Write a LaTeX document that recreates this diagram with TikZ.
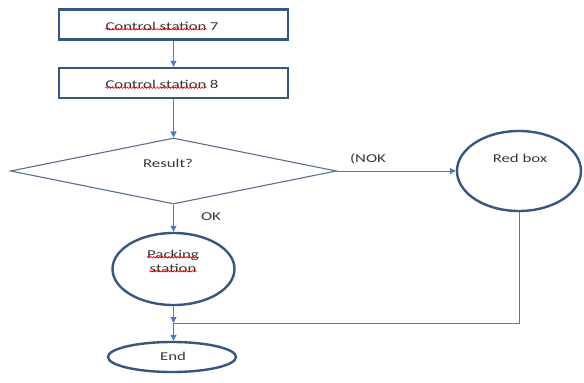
\documentclass[tikz,border=0pt]{standalone}
\usepackage{fontspec}
\setmainfont{Carlito}
\usetikzlibrary{shapes.geometric,arrows.meta,decorations.pathmorphing}
\definecolor{boxc}{HTML}{36587F}
\definecolor{linec}{HTML}{4A7EBB}
\definecolor{diac}{HTML}{5B7090}
\definecolor{txt}{HTML}{383838}
\newcommand\wt[1]{\scalebox{1.4}[1]{#1}}
\begin{document}
\begin{tikzpicture}[x=1pt,y=-1pt,
  lbl/.style={font=\fontsize{12}{13}\selectfont, text=txt, inner sep=0pt},
  stationbox/.style={draw=boxc, line width=2.3pt, minimum width=229pt, minimum height=30pt, inner sep=0pt},
  oval/.style={ellipse, draw=boxc, line width=2.4pt, inner sep=0pt},
  decision/.style={diamond, draw=diac, line width=1.1pt, inner sep=0pt, shape aspect=4.9, minimum width=326pt, minimum height=66pt},
  conn/.style={draw=linec, line width=1pt, -{Triangle[length=6pt,width=6pt]}},
  plain/.style={draw=linec, line width=1pt},
  squig/.style={red, line width=0.6pt, decorate, decoration={snake, amplitude=0.8pt, segment length=3pt}}]
\useasboundingbox (0,0) rectangle (584,383);
\fill[white] (0,0) rectangle (584,383);

% boxes
\node[stationbox] (b1) at (173.5,24.5) {};
\node[stationbox] (b2) at (173.5,83) {};
\node[decision] (dia) at (173.5,171) {};
\node[oval, minimum width=124pt, minimum height=80pt] (red) at (519,171) {};
\node[oval, minimum width=122pt, minimum height=72pt] (pack) at (173.5,269) {};
\node[oval, minimum width=128pt, minimum height=30pt] (endn) at (172,357) {};

% texts
\node[lbl, anchor=base] (t1) at (156,30) {\wt{Control station}};
\node[lbl, anchor=base west] (t1n) at ([xshift=3pt]t1.base east) {\wt{7}};
\node[lbl, anchor=base] (t2) at (156,88.5) {\wt{Control station}};
\node[lbl, anchor=base west] (t2n) at ([xshift=3pt]t2.base east) {\wt{8}};
\node[lbl] (res) at (168,163) {\wt{Result?}};
\node[lbl] (nok) at (368,159) {\wt{(NOK}};
\node[lbl] (rb) at (520,158) {\wt{Red box}};
\node[lbl] (ok) at (211,217) {\wt{OK}};
\node[lbl, anchor=base] (p1) at (173,258) {\wt{Packing}};
\node[lbl, anchor=base] (p2) at (173,272) {\wt{station}};
\node[lbl] (en) at (173,356) {\wt{End}};

% spelling squiggles
\draw[squig] ([yshift=0.8pt]t1.base west) -- ([yshift=0.8pt]t1.base east);
\draw[squig] ([yshift=0.8pt]t2.base west) -- ([yshift=0.8pt]t2.base east);
\draw[squig] ([yshift=0.8pt]p1.base west) -- ([yshift=0.8pt]p1.base east);
\draw[squig] ([yshift=0.8pt]p2.base west) -- ([yshift=0.8pt]p2.base east);

% connectors
\coordinate (j) at (173.5,323);
\draw[conn] (b1) -- (b2);
\draw[conn] (b2) -- (dia.north);
\draw[conn] (dia.south) -- (pack.north);
\draw[conn] (dia.east) -- (red.west);
\draw[conn] (pack.south) -- (j);
\draw[plain] (red.south) |- (j);
\draw[conn] (j) -- (endn.north -| j);
\end{tikzpicture}
\end{document}
